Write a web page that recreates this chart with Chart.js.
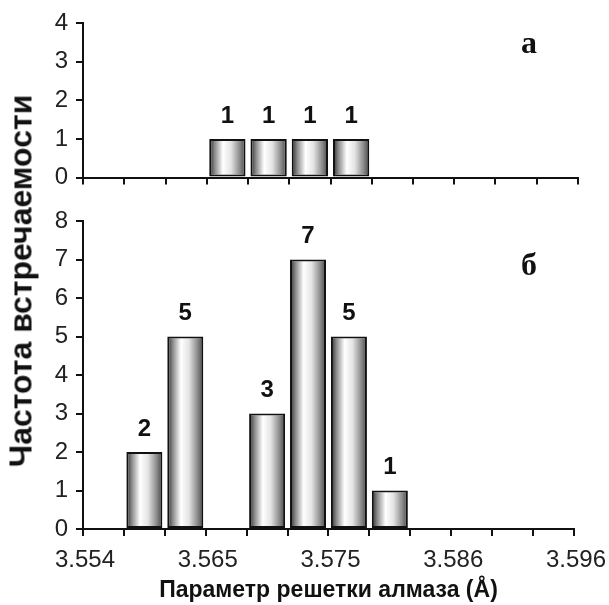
<!DOCTYPE html>
<html>
<head>
<meta charset="utf-8">
<script src="https://cdn.jsdelivr.net/npm/chart.js@4/dist/chart.umd.min.js"></script>
<style>
  body { margin: 0; background: #fff; overflow: hidden; }
  #wrap { position: relative; width: 609px; height: 605px; overflow: hidden; font-family: "Liberation Sans", Arial, sans-serif; }
  canvas { position: absolute; left: 0; }
  #chartA { top: 0; }
  #chartB { top: 190px; }
  .panel { position: absolute; font: bold 32px "Liberation Serif", "Times New Roman", serif; color: #111; }
  #yTitle {
    position: absolute; left: 21px; top: 281px;
    transform: translate(-50%, -50%) rotate(-90deg);
    white-space: nowrap; font: bold 32px "Liberation Sans", Arial, sans-serif; color: #111;
  }
</style>
</head>
<body>
<div id="wrap">
  <canvas id="chartA" width="609" height="200"></canvas>
  <canvas id="chartB" width="614" height="415"></canvas>
  <div class="panel" style="left:521px; top:24px;">а</div>
  <div class="panel" style="left:521px; top:246px;">б</div>
  <div id="yTitle">Частота встречаемости</div>
</div>
<script>
// histogram bins (Å), bin width 0.0035
const xMin = 3.554;
const xMax = 3.596;
const binWidth = 0.0035;
const xTickLabels = ["3.554", "3.565", "3.575", "3.586", "3.596"];

// panel а
const binCentersA = [3.56625, 3.56975, 3.57325, 3.57675];
const countsA = [1, 1, 1, 1];

// panel б
const binCentersB = [3.55925, 3.56275, 3.56975, 3.57325, 3.57675, 3.58025];
const countsB = [2, 5, 3, 7, 5, 1];

const barPct = 0.88;

function barFill(ctx) {
  const xs = ctx.chart.scales.x;
  if (ctx.type !== "data" || !xs) return "#ccc";
  const c = ctx.parsed.x;
  const l = xs.getPixelForValue(c - binWidth / 2);
  const r = xs.getPixelForValue(c + binWidth / 2);
  if (!Number.isFinite(l) || !Number.isFinite(r)) return "#ccc";
  const cx = (l + r) / 2, half = (r - l) * barPct / 2;
  const g = ctx.chart.ctx.createLinearGradient(cx - half, 0, cx + half, 0);
  g.addColorStop(0, "#2a2a2a");
  g.addColorStop(0.15, "#8a8a8a");
  g.addColorStop(0.38, "#ffffff");
  g.addColorStop(0.6, "#e4e4e4");
  g.addColorStop(0.85, "#888888");
  g.addColorStop(1, "#444444");
  return g;
}

const valueLabels = {
  id: "valueLabels",
  afterDatasetsDraw(chart) {
    const { ctx } = chart;
    const meta = chart.getDatasetMeta(0);
    const data = chart.data.datasets[0].data;
    ctx.save();
    ctx.font = 'bold 24px "Liberation Sans", Arial, sans-serif';
    ctx.fillStyle = "#111";
    ctx.textAlign = "center";
    ctx.textBaseline = "middle";
    meta.data.forEach((bar, i) => {
      ctx.fillText(data[i].y, bar.x, bar.y - 23);
    });
    ctx.restore();
  },
};

function makeChart(id, centers, counts, yMax, showLabels, xHeight, pad) {
  return new Chart(document.getElementById(id), {
    type: "bar",
    data: {
      datasets: [
        {
          data: centers.map((x, i) => ({ x, y: counts[i] })),
          backgroundColor: barFill,
          borderColor: "#111",
          borderWidth: 2,
          borderSkipped: false,
          categoryPercentage: 1,
          barPercentage: barPct,
        },
      ],
    },
    options: {
      responsive: false,
      animation: false,
      layout: { padding: pad },
      plugins: {
        legend: { display: false },
        tooltip: { enabled: false },
      },
      scales: {
        x: {
          type: "linear",
          min: xMin,
          max: xMax,
          offset: false,
          grid: {
            offset: false,
            drawOnChartArea: false,
            color: "#111",
            lineWidth: 2,
            tickLength: 7,
          },
          border: { display: true, color: "#111", width: 2 },
          ticks: {
            stepSize: binWidth,
            autoSkip: false,
            maxRotation: 0,
            padding: 10,
            labelOffset: 2,
            color: "#222",
            font: { family: '"Liberation Sans", Arial, sans-serif', size: 24 },
            callback: (value, index) =>
              showLabels && index % 3 === 0 ? xTickLabels[index / 3] : "",
          },
          title: {
            display: showLabels,
            text: "Параметр решетки алмаза (Å)",
            color: "#111",
            font: { family: '"Liberation Sans", Arial, sans-serif', size: 23, weight: "bold" },
            padding: { top: 0, bottom: 1 },
          },
          afterFit: (scale) => {
            scale.height = xHeight;
          },
        },
        y: {
          min: 0,
          max: yMax,
          grid: {
            drawOnChartArea: false,
            color: "#111",
            lineWidth: 2,
            tickLength: 7,
          },
          border: { display: true, color: "#111", width: 2 },
          ticks: {
            stepSize: 1,
            padding: 8,
            color: "#222",
            font: { family: '"Liberation Sans", Arial, sans-serif', size: 24 },
          },
          afterFit: (scale) => {
            scale.width = 83;
          },
        },
      },
    },
    plugins: [valueLabels],
  });
}

makeChart("chartA", binCentersA, countsA, 4, false, 13, { top: 23, right: 31, left: 0, bottom: 0 });
makeChart("chartB", binCentersB, countsB, 8, true, 76, { top: 31, right: 31, left: 0, bottom: 0 });
</script>
</body>
</html>
